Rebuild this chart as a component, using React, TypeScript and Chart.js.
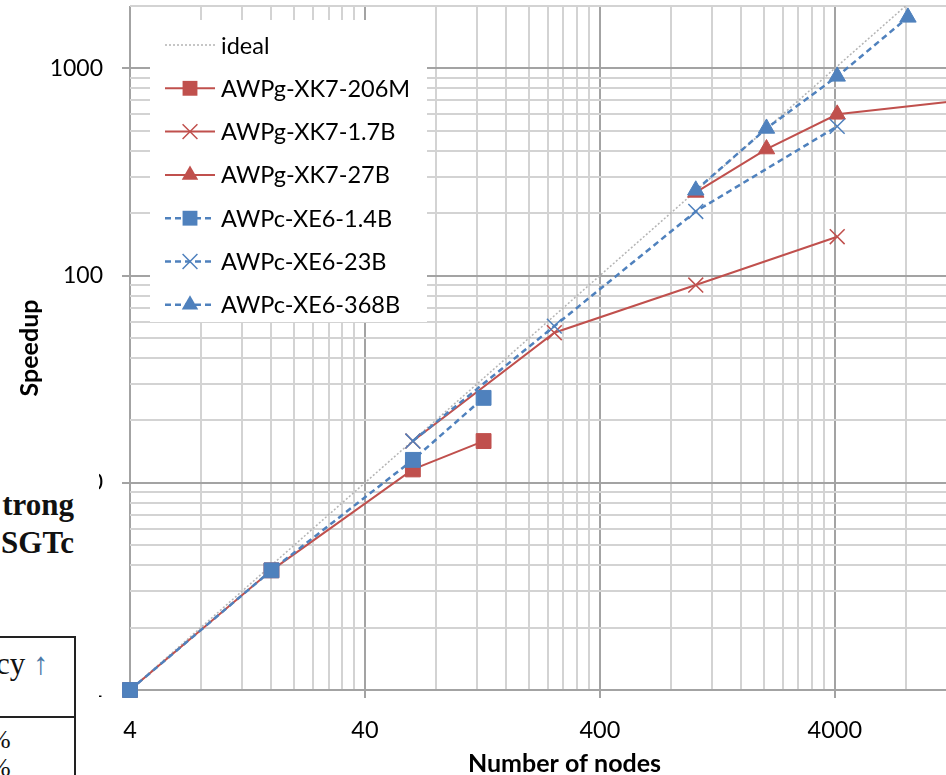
import React, { useEffect, useRef } from 'react';
import { Chart, registerables } from 'chart.js';

Chart.register(...registerables);

const RED = '#C0504D';
const BLUE = '#4F81BD';
const IDEAL = '#b4b4b4';

const seriesNames = [
  'ideal',
  'AWPg-XK7-206M',
  'AWPg-XK7-1.7B',
  'AWPg-XK7-27B',
  'AWPc-XE6-1.4B',
  'AWPc-XE6-23B',
  'AWPc-XE6-368B',
];

const idealNodes = [4, 16, 64, 128, 256, 1024, 2048, 4096, 8192, 16384];
const idealSpeedup = [1, 4, 16, 32, 64, 256, 512, 1024, 2048, 4096];

const g206MNodes = [4, 16, 64, 128];
const g206MSpeedup = [1, 3.78, 11.6, 15.9];

const g17BNodes = [64, 256, 1024, 4096];
const g17BSpeedup = [15.9, 53, 90, 154];

const g27BNodes = [1024, 2048, 4096, 16384];
const g27BSpeedup = [252, 408, 600, 715];

const c14BNodes = [4, 16, 64, 128];
const c14BSpeedup = [1, 3.78, 12.9, 25.7];

const c23BNodes = [64, 256, 1024, 4096];
const c23BSpeedup = [15.9, 57, 204, 525];

const c368BNodes = [1024, 2048, 4096, 8192];
const c368BSpeedup = [258, 513, 915, 1763];

const xTickLabels = [4, 40, 400, 4000];
const yTickLabels = [1, 10, 100, 1000];
const xRange = [4, 20000];
const yRange = [1, 2000];
const gridMultipliers = [1, 2, 3, 4, 5, 6, 7, 8, 9];

const FONT = 'Lato, "Open Sans", sans-serif';
const MAJOR_GRID = '#a3a3a3';
const MINOR_GRID = '#d3d3d3';

function gridValues(decades: number[], max: number) {
  const out: number[] = [];
  decades.forEach((d) => gridMultipliers.forEach((k) => { if (d * k <= max * 1.0001) out.push(d * k); }));
  return out;
}

function pts(xs: number[], ys: number[]) {
  return xs.map((x, i) => ({ x, y: ys[i] }));
}

type Style = { color: string; dash: number[]; marker: string | null; width: number };
const styles: Style[] = [
  { color: IDEAL, dash: [2, 2], marker: null, width: 1.5 },
  { color: RED, dash: [], marker: 'rect', width: 2 },
  { color: RED, dash: [], marker: 'crossRot', width: 2 },
  { color: RED, dash: [], marker: 'triangle', width: 2 },
  { color: BLUE, dash: [6, 4], marker: 'rect', width: 2.5 },
  { color: BLUE, dash: [6, 4], marker: 'crossRot', width: 2.5 },
  { color: BLUE, dash: [6, 4], marker: 'triangle', width: 2.5 },
];
const seriesData = [
  pts(idealNodes, idealSpeedup),
  pts(g206MNodes, g206MSpeedup),
  pts(g17BNodes, g17BSpeedup),
  pts(g27BNodes, g27BSpeedup),
  pts(c14BNodes, c14BSpeedup),
  pts(c23BNodes, c23BSpeedup),
  pts(c368BNodes, c368BSpeedup),
];

function markerRadius(m: string | null) {
  if (m === 'rect') return 10.5;
  if (m === 'triangle') return 9.5;
  if (m === 'crossRot') return 10.5;
  return 0;
}

function drawMarker(ctx: CanvasRenderingContext2D, m: string, x: number, y: number, color: string) {
  ctx.save();
  ctx.setLineDash([]);
  ctx.fillStyle = color;
  ctx.strokeStyle = color;
  if (m === 'rect') {
    const s = markerRadius(m) * Math.SQRT1_2;
    ctx.fillRect(x - s, y - s, 2 * s, 2 * s);
  } else if (m === 'triangle') {
    const r = markerRadius(m);
    ctx.beginPath();
    ctx.moveTo(x, y - r);
    ctx.lineTo(x + r * Math.sin(2 * Math.PI / 3), y - r * Math.cos(2 * Math.PI / 3));
    ctx.lineTo(x + r * Math.sin(4 * Math.PI / 3), y - r * Math.cos(4 * Math.PI / 3));
    ctx.closePath();
    ctx.fill();
  } else if (m === 'crossRot') {
    const o = markerRadius(m) * Math.SQRT1_2;
    ctx.lineWidth = 1.5;
    ctx.beginPath();
    ctx.moveTo(x - o, y - o);
    ctx.lineTo(x + o, y + o);
    ctx.moveTo(x - o, y + o);
    ctx.lineTo(x + o, y - o);
    ctx.stroke();
  }
  ctx.restore();
}

const legendPlugin = {
  id: 'boxLegend',
  afterDraw(chart: any) {
    const ctx: CanvasRenderingContext2D = chart.ctx;
    ctx.save();
    ctx.fillStyle = '#ffffff';
    ctx.fillRect(150, 20, 277, 302);
    ctx.font = `23.5px ${FONT}`;
    ctx.textBaseline = 'middle';
    ctx.textAlign = 'left';
    seriesNames.forEach((name, i) => {
      const st = styles[i];
      const y = 45 + i * 43.3;
      ctx.save();
      ctx.strokeStyle = st.color;
      ctx.lineWidth = st.width;
      ctx.setLineDash(st.dash);
      ctx.beginPath();
      ctx.moveTo(165, y);
      ctx.lineTo(215, y);
      ctx.stroke();
      ctx.restore();
      if (st.marker) drawMarker(ctx, st.marker, 190, y, st.color);
      ctx.fillStyle = '#000000';
      ctx.fillText(name, 221, y + 1);
    });
    ctx.restore();
  },
};

export default function App() {
  const ref = useRef<HTMLCanvasElement | null>(null);

  useEffect(() => {
    if (!ref.current) return;
    const xGrid = gridValues(xTickLabels, xRange[1]);
    const yGrid = gridValues(yTickLabels, yRange[1]);

    const datasets = seriesNames.map((name, i) => {
      const st = styles[i];
      const r = markerRadius(st.marker);
      return {
        label: name,
        data: seriesData[i],
        borderColor: st.color,
        backgroundColor: st.color,
        borderWidth: st.width,
        borderDash: st.dash,
        pointStyle: st.marker || 'circle',
        pointRadius: r,
        pointHoverRadius: r,
        pointBorderWidth: st.marker === 'crossRot' ? 1.5 : 1,
        pointBorderColor: st.color,
        pointBackgroundColor: st.color,
        tension: 0,
        fill: false,
        order: 6 - i,
        clip: st.marker ? { left: 12, top: 12, right: 0, bottom: 12 } : 0,
      };
    });

    const chart = new Chart(ref.current, {
      type: 'line',
      data: { datasets },
      plugins: [legendPlugin],
      options: {
        animation: false,
        responsive: false,
        devicePixelRatio: 1,
        layout: { autoPadding: false, padding: { top: 6, left: 0, right: 0, bottom: 0 } },
        plugins: {
          legend: { display: false },
          tooltip: { enabled: false },
        },
        scales: {
          x: {
            type: 'logarithmic',
            min: xRange[0],
            max: xRange[1],
            afterBuildTicks: (axis: any) => {
              axis.ticks = xGrid.map((v) => ({ value: v, major: xTickLabels.includes(v) }));
            },
            afterFit: (axis: any) => {
              axis.height = 100;
              axis.paddingLeft = 0;
              axis.paddingRight = 0;
            },
            ticks: {
              autoSkip: false,
              maxRotation: 0,
              minRotation: 0,
              padding: 18,
              color: '#000',
              font: { family: FONT, size: 23.5 },
              callback: (v: any) => (xTickLabels.includes(Number(v)) ? String(v) : ''),
            },
            grid: {
              color: (c: any) => (xTickLabels.includes(c.tick?.value) ? MAJOR_GRID : MINOR_GRID),
              tickColor: (c: any) => (xTickLabels.includes(c.tick?.value) ? MAJOR_GRID : 'rgba(0,0,0,0)'),
              lineWidth: 2,
              tickLength: 8,
              drawTicks: true,
            },
            border: { display: false },
            title: {
              display: true,
              text: 'Number of nodes',
              color: '#000',
              font: { family: FONT, size: 25, weight: 'bold' },
              padding: { top: 0, bottom: 11 },
            },
          },
          y: {
            type: 'logarithmic',
            min: yRange[0],
            max: yRange[1],
            afterBuildTicks: (axis: any) => {
              axis.ticks = yGrid.map((v) => ({ value: v, major: yTickLabels.includes(v) }));
            },
            afterFit: (axis: any) => {
              axis.width = 130;
              axis.paddingTop = 0;
              axis.paddingBottom = 0;
            },
            ticks: {
              autoSkip: false,
              padding: 19,
              color: '#000',
              font: { family: FONT, size: 23 },
              callback: (v: any) => (yTickLabels.includes(Number(v)) ? String(v) : ''),
            },
            grid: {
              color: (c: any) => (yTickLabels.includes(c.tick?.value) ? MAJOR_GRID : MINOR_GRID),
              tickColor: (c: any) => (yTickLabels.includes(c.tick?.value) ? MAJOR_GRID : 'rgba(0,0,0,0)'),
              lineWidth: 2,
              tickLength: 8,
              drawTicks: true,
            },
            border: { display: false },
            title: {
              display: true,
              text: 'Speedup',
              color: '#000',
              font: { family: FONT, size: 25, weight: 'bold' },
              padding: { top: 15, bottom: 0 },
            },
          },
        },
      } as any,
    });
    return () => chart.destroy();
  }, []);

  const serif = '"Liberation Serif", "DejaVu Serif", serif';
  return (
    <div style={{ position: 'absolute', left: 0, top: 0, width: 946, height: 775, overflow: 'hidden', background: '#fff' }}>
      <canvas ref={ref} width={999} height={790} style={{ position: 'absolute', left: 0, top: 0, width: 999, height: 790 }} />
      <div style={{ position: 'absolute', left: 0, top: 428, width: 99, height: 347, background: '#fff', overflow: 'hidden', fontFamily: serif, color: '#111' }}>
        <div style={{ position: 'absolute', right: 25, top: 58, fontSize: 31, fontWeight: 'bold', lineHeight: '38px', whiteSpace: 'nowrap', textAlign: 'right' }}>
          <div>trong</div>
          <div>SGTc</div>
        </div>
        <div style={{ position: 'absolute', left: -4, top: 208, width: 78, height: 200, borderTop: '2.5px solid #222', borderRight: '2.5px solid #222' }} />
        <div style={{ position: 'absolute', left: -4, top: 288, width: 78, height: 0, borderTop: '2.5px solid #222' }} />
        <div style={{ position: 'absolute', left: -4, top: 218, fontSize: 31, lineHeight: '36px', whiteSpace: 'nowrap' }}>
          cy <span style={{ color: '#4a78a8' }}>↑</span>
        </div>
        <div style={{ position: 'absolute', left: -11, top: 298, fontSize: 26, lineHeight: '28px', whiteSpace: 'nowrap' }}>
          <div>%</div>
          <div>%</div>
        </div>
      </div>
    </div>
  );
}
